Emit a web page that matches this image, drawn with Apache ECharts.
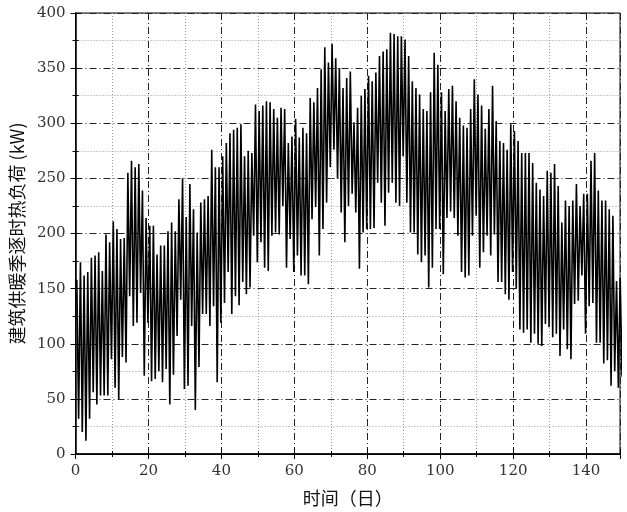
<!DOCTYPE html>
<html>
<head>
<meta charset="utf-8">
<script src="https://cdn.jsdelivr.net/npm/echarts@6/dist/echarts.min.js"></script>
<style>
html,body{margin:0;padding:0;background:#fff;}
#chart{width:627px;height:512px;}
</style>
</head>
<body>
<div id="chart"></div>
<script>
// Daily peak load (kW) for each day of the heating season
var dailyPeak = [
158,174,162,165,178,180,183,166,199,192,
211,204,195,196,255,266,260,263,239,214,
207,207,181,189,189,202,210,202,231,250,
215,245,222,201,228,231,234,276,260,260,
270,282,291,294,296,299,270,275,273,317,
311,316,320,319,313,305,314,313,282,288,
304,287,296,291,323,319,332,349,369,355,
372,359,350,332,341,347,301,314,325,331,
343,338,346,361,365,367,382,381,379,379,
376,361,338,332,326,313,311,328,364,353,
328,311,331,334,320,305,298,296,313,340,
326,316,295,313,334,302,284,282,276,299,
293,284,273,273,273,264,246,240,234,257,
255,263,243,210,230,225,230,245,225,236,
236,266,273,239,230,230,222,216,157,160
];
// Daily minimum load (kW)
var dailyTrough = [
32,20,12,32,56,45,53,53,53,86,
60,50,88,83,143,116,119,146,71,119,
66,68,75,65,77,45,72,107,140,59,
62,116,40,79,127,127,116,134,65,119,
137,165,127,143,135,156,145,151,198,174,
192,169,166,198,201,199,225,169,195,165,
180,162,162,154,213,224,180,204,228,260,
276,250,219,192,225,236,219,168,201,204,
204,205,246,228,207,237,246,228,225,270,
228,201,201,181,174,180,151,169,204,204,
163,214,220,214,198,165,160,162,198,216,
169,183,198,180,199,156,156,145,140,165,
150,113,110,113,101,109,100,98,118,115,
106,109,89,113,95,86,136,139,162,109,
134,137,101,101,82,85,62,75,60,70
];
var xTitle = '时间（日）';
var yTitle = '建筑供暖季逐时热负荷 (kW)';
var xMax = 149.3;

var seriesData = [];
for (var d = 0; d < dailyPeak.length; d++) {
  seriesData.push([d + 0.35, dailyPeak[d]]);
  seriesData.push([d + 0.85, dailyTrough[d]]);
}

var labelFont = {fontFamily: 'DejaVu Serif', fontSize: 15, color: '#333'};
var titleFont = {fontFamily: 'Noto Sans CJK SC', fontSize: 18, color: '#111'};
var majorLine = {color: '#222', width: 1, type: [7, 3, 1, 3]};
var minorLine = {color: '#999', width: 1, type: [1, 2]};

var chart = echarts.init(document.getElementById('chart'), null, {renderer: 'canvas'});
chart.setOption({
  animation: false,
  grid: {left: 75, right: 7, top: 13, bottom: 57, show: true, borderColor: '#000', borderWidth: 1},
  xAxis: [{
    type: 'value', min: 0, max: xMax, interval: 20,
    name: xTitle, nameLocation: 'middle', nameGap: 35, nameTextStyle: titleFont,
    axisLine: {show: true, lineStyle: {color: '#000', width: 1.5}},
    axisTick: {show: true, inside: true, length: 5, lineStyle: {color: '#000'}},
    minorTick: {show: true, splitNumber: 2, length: 3, lineStyle: {color: '#000'}},
    axisLabel: Object.assign({margin: 10, showMaxLabel: false}, labelFont),
    splitLine: {show: true, lineStyle: majorLine},
    minorSplitLine: {show: true, lineStyle: minorLine}
  }, {
    type: 'value', min: 0, max: xMax, interval: 20, position: 'top',
    axisLine: {show: true, lineStyle: {color: '#000', width: 1}},
    axisTick: {show: true, inside: true, length: 5, lineStyle: {color: '#000'}},
    minorTick: {show: true, splitNumber: 2, length: 3, lineStyle: {color: '#000'}},
    axisLabel: {show: false}, splitLine: {show: false}
  }],
  yAxis: [{
    type: 'value', min: 0, max: 400, interval: 50,
    name: yTitle, nameLocation: 'middle', nameGap: 41, nameRotate: 90, nameTextStyle: titleFont,
    axisLine: {show: true, lineStyle: {color: '#000', width: 1.5}},
    axisTick: {show: true, inside: true, length: 5, lineStyle: {color: '#000'}},
    minorTick: {show: true, splitNumber: 2, length: 3, lineStyle: {color: '#000'}},
    axisLabel: Object.assign({margin: 10}, labelFont),
    splitLine: {show: true, lineStyle: majorLine},
    minorSplitLine: {show: true, lineStyle: minorLine}
  }, {
    type: 'value', min: 0, max: 400, interval: 50, position: 'right',
    axisLine: {show: true, lineStyle: {color: '#000', width: 1}},
    axisTick: {show: true, inside: true, length: 5, lineStyle: {color: '#000'}},
    minorTick: {show: true, splitNumber: 2, length: 3, lineStyle: {color: '#000'}},
    axisLabel: {show: false}, splitLine: {show: false}
  }],
  series: [{
    type: 'line', xAxisIndex: 0, yAxisIndex: 0,
    data: seriesData, showSymbol: false, symbol: 'none',
    lineStyle: {color: '#000', width: 1.6},
    z: 5
  }]
});
</script>
</body>
</html>
